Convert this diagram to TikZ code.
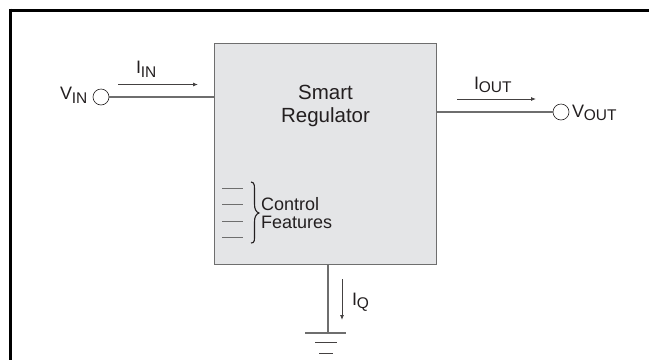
\documentclass[tikz,border=0pt]{standalone}
\usepackage{fontspec}
\setmainfont{Liberation Sans}
\usetikzlibrary{arrows.meta}
\definecolor{boxfill}{RGB}{228,229,231}
\definecolor{wire}{RGB}{110,110,110}
\definecolor{inkc}{RGB}{35,31,32}
\tikzset{
  x=1pt,y=-1pt,
  wireline/.style={draw=wire,line width=1.1pt},
  thinline/.style={draw=wire,line width=0.9pt},
  current/.style={draw=inkc!85,line width=0.8pt,-{Latex[length=5pt,width=4pt]}},
  term/.style={circle,draw=inkc,fill=white,line width=0.6pt,minimum size=16pt,inner sep=0pt},
  lbl/.style={text=inkc,font=\fontsize{18pt}{20pt}\selectfont,inner sep=0pt},
  small/.style={text=inkc,font=\fontsize{18pt}{18pt}\selectfont,inner sep=0pt,align=left}
}
\newcommand{\sbs}[2]{#1\kern-0.3pt\raisebox{-3.5pt}{\fontsize{15.5pt}{16pt}\selectfont #2}}
\begin{document}
\begin{tikzpicture}
\useasboundingbox (0,0) rectangle (649,360);
\fill[white] (0,0) rectangle (649,360);
\draw[black,line width=3pt] (10,10) -- (649,10);
\draw[black,line width=3pt] (10,8.5) -- (10,360);
\node[draw=wire,fill=boxfill,line width=1.1pt,minimum width=222pt,minimum height=221pt,inner sep=0pt,anchor=north west] (reg) at (213.5,42.5) {};
\node[lbl,align=center,font=\fontsize{20.5pt}{23pt}\selectfont] (title) at (325.5,106) {Smart\\Regulator};
\node[term] (vin) at (101,97) {};
\node[term] (vout) at (561,112) {};
\coordinate (regin) at (reg.west |- vin);
\coordinate (regout) at (reg.east |- vout);
\draw[wireline] (vin.east) -- (regin);
\draw[wireline] (regout) -- (vout.west);
\node[lbl,anchor=base west] (vinl) at (60,99.5) {\sbs{V}{IN}};
\node[lbl,anchor=base west] (voutl) at (572,117) {\sbs{V}{OUT}};
\node[lbl,anchor=base west] (iinl) at (136,73.5) {\sbs{I}{IN}};
\node[lbl,anchor=base west] (ioutl) at (474,89) {\sbs{I}{OUT}};
\coordinate (ia) at (118,84.5); \coordinate (ib) at (198,84.5);
\draw[current] (ia) -- (ib);
\coordinate (oa) at (457,99); \coordinate (ob) at (536,99);
\draw[current] (oa) -- (ob);
\coordinate (gndtop) at (328,333);
\draw[wireline] (reg.south -| gndtop) -- (gndtop);
\coordinate (qa) at (342,279); \coordinate (qb) at (342,320);
\draw[current] (qa) -- (qb);
\node[lbl,anchor=base west] (iql) at (352,305) {\sbs{I}{Q}};
\draw[draw=wire,line width=1.4pt] (305,333) -- (346,333);
\draw[draw=inkc!85,line width=0.8pt] (315,342) -- (337,342);
\draw[draw=inkc!85,line width=0.8pt] (319,353) -- (333,353);
\foreach \yy in {188,204,221,237}
  \draw[thinline] (222,\yy) -- (243,\yy);
\node[small,anchor=north west] (ctl) at (261,197) {Control\\Features};
\draw[inkc,line width=1.1pt] (251,182) .. controls (255,182) and (254.5,187) .. (254.5,192) -- (254.5,204) .. controls (254.5,209) and (256,212) .. (259,213) .. controls (256,214) and (254.5,217) .. (254.5,222) -- (254.5,234) .. controls (254.5,240) and (255,243) .. (251,243);
\end{tikzpicture}
\end{document}
